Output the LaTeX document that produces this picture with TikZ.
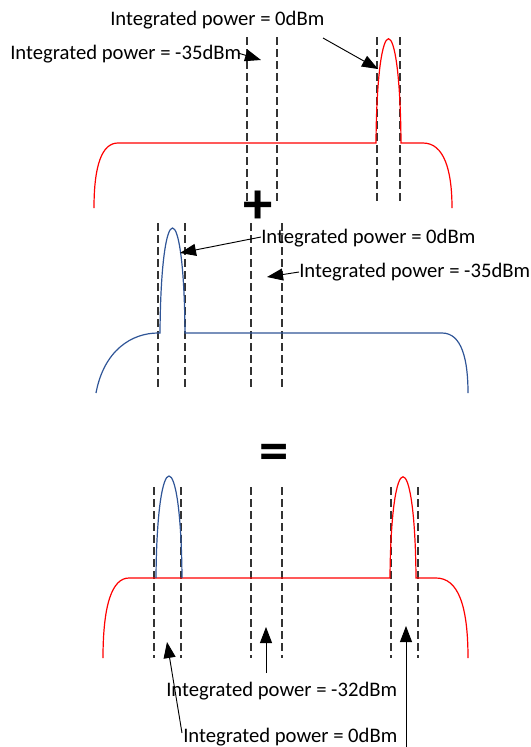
\documentclass[tikz,border=0pt]{standalone}
\usepackage{fontspec}
\setmainfont{Carlito}
\usetikzlibrary{arrows.meta}
\definecolor{sigblue}{RGB}{47,85,151}
\begin{document}
\begin{tikzpicture}[x=0.75pt,y=-0.75pt,
  lbl/.style={font=\fontsize{15.5}{17}\selectfont, inner sep=0pt, anchor=west},
  guide/.style={black!80, line width=1.1pt, dash pattern=on 6pt off 3pt},
  redsig/.style={red, line width=0.9pt},
  bluesig/.style={sigblue, line width=0.9pt},
  ptr/.style={black, line width=0.7pt, -{Triangle[length=12pt,width=9pt]}},
  bigsym/.style={font=\fontsize{44}{44}\selectfont\bfseries, inner sep=0pt}]
\useasboundingbox (0,0) rectangle (531,747);

% ---------- top panel ----------
\foreach \x in {247,277,377,400} \draw[guide] (\x,37) -- (\x,202);
\draw[redsig] (94,208) .. controls (94,165) and (102,143) .. (118,143)
  -- (376,143) .. controls (377,4) and (400,4) .. (401,143)
  -- (423,143) .. controls (444,143) and (452,170) .. (452,208);
\node[lbl] (t0) at (110,20) {Integrated power = 0dBm};
\node[lbl] (t35) at (10,54) {Integrated power = -35dBm};
\coordinate (t0s) at (323,38);
\coordinate (t0e) at (378,69);
\coordinate (t35s) at (238,53);
\coordinate (t35e) at (261,60);
\draw[ptr] (t0s) -- (t0e);
\draw[ptr] (t35s) -- (t35e);

\node[bigsym] (plus) at (258,207) {+};

% ---------- middle panel ----------
\foreach \x in {158,185,251,282} \draw[guide] (\x,223) -- (\x,388);
\draw[bluesig] (96,393) .. controls (104,350) and (132,333) .. (158,333)
  -- (160,333) .. controls (161,193) and (184,193) .. (185,333)
  -- (442,333) .. controls (462,333) and (468,360) .. (468,393);
\node[lbl] (m0) at (261,238) {Integrated power = 0dBm};
\node[lbl] (m35) at (299,272) {Integrated power = -35dBm};
\coordinate (m0s) at (261,237);
\coordinate (m0e) at (180,253);
\coordinate (m35s) at (299,272);
\coordinate (m35e) at (267,277);
\draw[ptr] (m0s) -- (m0e);
\draw[ptr] (m35s) -- (m35e);

% ---------- bottom panel ----------
\node[bigsym] (eq) at (274,457) {=};
\foreach \x in {154,181,251,282,391,418} \draw[guide] (\x,487) -- (\x,658);
\draw[redsig] (103,658) .. controls (103,605) and (112,578) .. (129,578)
  -- (390,578) .. controls (391,443) and (415,443) .. (416,578)
  -- (436,578) .. controls (458,578) and (468,605) .. (468,658);
\draw[bluesig] (156,578) .. controls (157,442) and (181,442) .. (182,578);
\node[lbl] (b32) at (166,691) {Integrated power = -32dBm};
\node[lbl] (b0) at (183,737) {Integrated power = 0dBm};
\coordinate (b32s) at (266,673);
\coordinate (b32e) at (266,627);
\coordinate (b0s) at (182,733);
\coordinate (b0e) at (167,642);
\coordinate (b0rs) at (406,747);
\coordinate (b0re) at (406,626);
\draw[ptr] (b32s) -- (b32e);
\draw[ptr] (b0s) -- (b0e);
\draw[ptr] (b0rs) -- (b0re);
\end{tikzpicture}
\end{document}
